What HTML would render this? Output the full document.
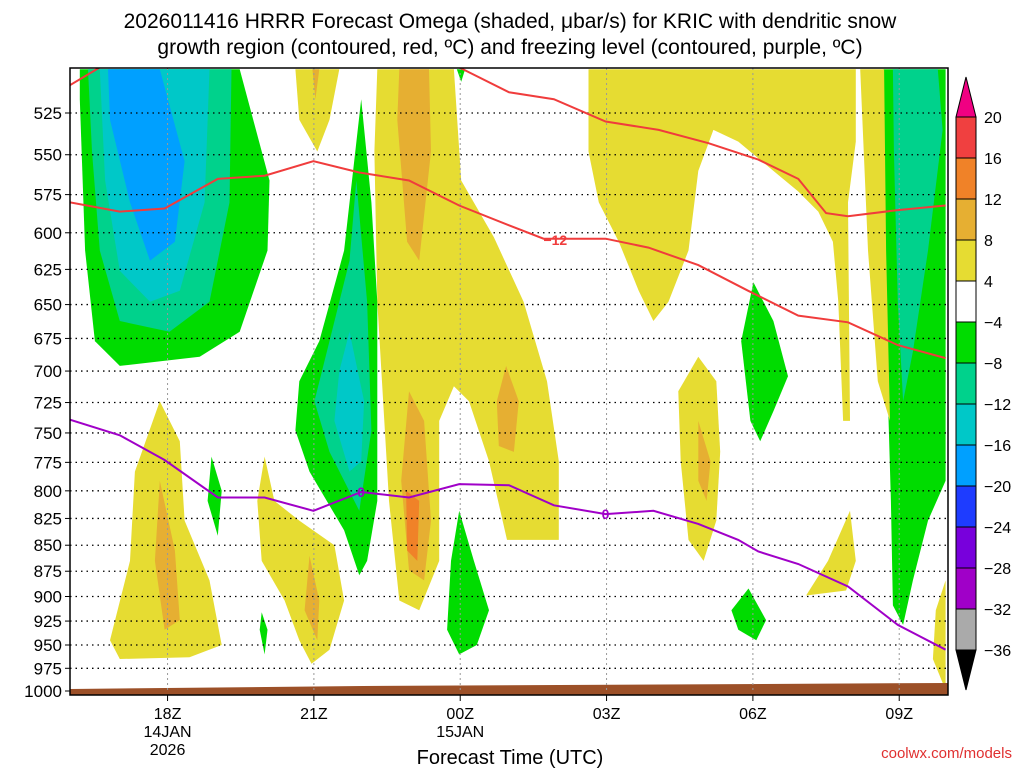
<!DOCTYPE html>
<html><head><meta charset="utf-8"><style>
body{margin:0;background:#fff;width:1024px;height:768px;overflow:hidden;font-family:"Liberation Sans","DejaVu Sans",sans-serif}
svg{display:block}
</style></head><body>
<svg id="c" width="1024" height="768">
<text x="510" y="28" font-size="21" text-anchor="middle">2026011416 HRRR Forecast Omega (shaded, μbar/s) for KRIC with dendritic snow</text>
<text x="510" y="54" font-size="21" text-anchor="middle">growth region (contoured, red, ºC) and freezing level (contoured, purple, ºC)</text>
<g id="shade"></g>
<g id="grid"></g>
<g id="lines"></g>
<g id="axes"></g>
<g id="cbar"></g>
<text x="510" y="764" font-size="20" text-anchor="middle">Forecast Time (UTC)</text>
<text x="1012" y="758" font-size="15" fill="#e03030" text-anchor="end">coolwx.com/models</text>
</svg>
<script>
// hours since 16Z 14JAN, pressure hPa
const yTicks=[525,550,575,600,625,650,675,700,725,750,775,800,825,850,875,900,925,950,975,1000];
const xTickHours=[2,5,8,11,14,17];
const xTickLabels=[["18Z","14JAN","2026"],["21Z"],["00Z","15JAN"],["03Z"],["06Z"],["09Z"]];
const cbLevels=[20,16,12,8,4,-4,-8,-12,-16,-20,-24,-28,-32,-36];
const cbColors=["#f04040","#f08228","#e6af32","#e6dc32","#ffffff","#00dc00","#00d28c","#00c8c8","#00a0ff","#1e3cff","#7800dc","#a000c8","#aaaaaa"];
const C={y:"#e6dc32",o:"#e6af32",r:"#f08228",g:"#00dc00",t:"#00d28c",c:"#00c8c8",b:"#00a0ff"};
const greenL=[0.2,500,3.48,500,4.09,566,4.05,612,3.48,670,2.66,689,1.02,696,0.51,677,0.31,612,0.2,517];
const tealL=[0.37,500,3.31,500,3.27,580,2.86,648,2.04,670,1.02,662,0.61,612,0.45,548];
const cyanL=[0.61,500,2.86,500,2.76,580,2.25,640,1.64,648,1.02,626,0.72,566];
const blueL=[0.78,500,1.84,500,2.35,554,2.15,606,1.64,619,1.23,580,0.82,529];
const yelA=[4.62,500,5.52,500,5.32,529,5.07,548,4.7,529];
const oraA=[4.97,500,5.11,500,5.03,517];
const yelMid=[6.3,500,7.87,500,8.02,566,8.69,603,9.3,648,9.78,708,10.02,774,10.02,845,8.96,845,8.59,774,8.18,724,7.87,712,7.57,740,7.57,865,7.16,914,6.75,904,6.54,809,6.3,648,6.24,548];
const oraTop=[6.75,500,7.36,500,7.4,548,7.16,619,6.91,606,6.71,529];
const oraLow=[6.95,716,7.26,740,7.4,827,7.26,884,6.95,874,6.79,791];
const oraDark=[6.89,800,7.16,809,7.12,865,6.91,855];
const oraR=[8.94,696,9.2,724,9.1,766,8.79,761,8.75,724];
const greenCol=[5.97,517,6.18,580,6.3,648,6.3,809,6.09,865,5.93,879,5.62,836,4.91,783,4.62,748,4.7,708,5.11,677,5.62,612];
const tealCol=[5.87,566,6.09,648,6.18,748,5.93,818,5.32,766,5.01,724,5.32,677,5.73,619];
const cyanCol=[5.73,670,6.03,724,5.97,774,5.73,783,5.42,740,5.52,700];
const yelLL=[1.84,724,2.25,757,2.35,827,2.86,884,3.11,950,2.45,963,1.02,965,0.82,945,1.23,865,1.33,783];
const oraLL=[1.84,791,2.15,855,2.25,924,1.94,934,1.74,865];
const greenSm=[2.9,770,3.11,800,3.03,841,2.82,809];
const yel6=[3.99,770,4.19,809,4.7,827,5.42,850,5.62,904,5.32,955,4.95,970,4.7,945,4.4,904,3.93,865,3.84,809];
const ora6=[4.91,860,5.11,904,5.07,945,4.81,914];
const grn6=[3.93,916,4.05,934,3.99,960,3.89,934];
const grn7=[7.98,818,8.28,865,8.59,914,8.34,950,7.98,960,7.73,934,7.81,865];
const grnTop=[7.93,500,8.1,500,8.02,507];
const yelR=[10.63,500,16.11,500,16.11,542,15.95,580,15.99,740,15.85,740,15.75,648,15.64,606,15.34,586,14.93,573,14.42,560,13.70,542,13.19,535,12.88,560,12.68,612,12.27,648,11.96,662,11.66,640,11.25,606,10.84,580,10.63,548];
const yel9=[12.88,689,13.25,708,13.33,766,13.25,827,12.99,865,12.68,845,12.52,774,12.47,716];
const ora9=[12.88,740,13.13,774,13.05,809,12.88,791];
const grn10=[14.01,634,14.42,662,14.72,704,14.42,732,14.15,757,13.95,740,13.76,677];
const grn11=[13.91,892,14.27,924,14.07,945,13.7,934,13.56,914];
const yel12=[15.99,818,16.11,865,15.91,894,15.09,899,15.54,865];
const grnR=[16.67,500,17.95,500,17.95,791,17.59,827,17.28,884,17.08,929,16.87,909,16.83,809,16.77,724,16.69,612];
const tealR=[16.87,500,17.79,500,17.89,535,17.59,612,17.28,685,17.08,724,16.97,648,16.89,548];
const yelStrip=[16.2,500,16.69,500,16.73,612,16.81,740,16.56,708,16.36,612];
const yelBR=[17.95,884,17.95,999,17.69,965,17.75,914];
const redBHours=[0,1.02,1.94,3.03,3.99,4.99,5.93,6.95,7.98,9.0,9.71,10.98,11.86,12.88,13.9,14.93,15.95,16.97,17.95];
const redBP=[580,586,584,565,563,554,561,566,582,595,604,604,610,622,640,658,663,680,690];
const redAHours=[7.98,9.0,9.92,10.98,12.07,13.09,14.11,14.93,15.5,15.95,16.97,17.95];
const redAP=[499,513,517,530,535,543,553,565,587,589,585,582];
const redStubHours=[0,0.61];
const redStubP=[509,499];
const frzHours=[0,1.02,1.94,3.03,3.99,4.99,5.97,6.95,7.98,9.0,9.92,10.98,11.96,12.88,13.7,14.11,14.93,15.95,16.97,17.95];
const frzP=[739,752,773,806,806,818,801,806,794,795,813,821,818,830,845,856,868,890,929,955];

const NS="http://www.w3.org/2000/svg";
const L=70,R=948,T=68,B=691;
function X(h){return L+h*(R-L)/18;}
function Y(p){return B-Math.log(1000/p)/Math.log(1000/525)*(B-113);}
function mk(tag,attrs,parent){const e=document.createElementNS(NS,tag);for(const k in attrs)e.setAttribute(k,attrs[k]);parent.appendChild(e);return e;}
const shade=document.getElementById('shade');
const cp=mk('clipPath',{id:'pc'},shade);
mk('rect',{x:L,y:T,width:R-L,height:B-T+4},cp);
const sg=mk('g',{'clip-path':'url(#pc)'},shade);
const polys=[[greenL,'g','green-region-left'],[tealL,'t','teal-region-left'],[cyanL,'c','cyan-region-left'],[blueL,'b','blue-region-left'],
[yelA,'y','yellow-region-a'],[oraA,'o','orange-region-a'],[yelMid,'y','yellow-region-mid'],[oraTop,'o','orange-region-top'],[oraLow,'o','orange-region-low'],[oraDark,'r','dark-orange-region'],[oraR,'o','orange-region-right'],
[greenCol,'g','green-column'],[tealCol,'t','teal-column'],[cyanCol,'c','cyan-column'],
[yelLL,'y','yellow-region-lowleft'],[oraLL,'o','orange-region-lowleft'],[greenSm,'g','green-small'],
[yel6,'y','yellow-region-6'],[ora6,'o','orange-region-6'],[grn6,'g','green-region-6'],[grn7,'g','green-region-7'],[grnTop,'g','green-top'],
[yelR,'y','yellow-region-right'],[yel9,'y','yellow-region-9'],[ora9,'o','orange-region-9'],[grn10,'g','green-region-10'],[grn11,'g','green-region-11'],[yel12,'y','yellow-region-12'],
[grnR,'g','green-region-far-right'],[tealR,'t','teal-region-far-right'],[yelStrip,'y','yellow-strip'],[yelBR,'y','yellow-bottom-right']];
polys.forEach(([arr,c,name])=>{
  let pts=[];for(let i=0;i<arr.length;i+=2)pts.push(X(arr[i]).toFixed(1)+','+Y(arr[i+1]).toFixed(1));
  const e=mk('polygon',{points:pts.join(' '),fill:C[c],'stroke-linejoin':'round'},sg);
  
  
});
const gr=mk('polygon',{points:`${L},${B+4} ${L},${B-2} ${X(6)},${B-5} ${R},${B-8} ${R},${B+4}`,fill:'#9c5028'},shade);



const grid=document.getElementById('grid');
yTicks.forEach(p=>{if(p<1000){const e=mk('line',{x1:L,x2:R,y1:Y(p),y2:Y(p),stroke:'#000','stroke-width':1.3,'stroke-dasharray':'1.5 4'},grid);

}});
xTickHours.forEach(h=>{const e=mk('line',{x1:X(h),x2:X(h),y1:T,y2:B,stroke:'#999','stroke-width':1,'stroke-dasharray':'2 3'},grid);

});

const lines=document.getElementById('lines');
function pl(hs,ps,col,name){const d=hs.map((h,i)=>(i?'L':'M')+X(h).toFixed(1)+','+Y(ps[i]).toFixed(1)).join('');
const e=mk('path',{d:d,fill:'none',stroke:col,'stroke-width':2,'clip-path':'url(#pc)'},lines);

}
pl(redBHours,redBP,'#f03c3c','dgz-contour-minus12');
pl(redAHours,redAP,'#f03c3c','dgz-contour-upper');
pl(redStubHours,redStubP,'#f03c3c','dgz-contour-stub');
pl(frzHours,frzP,'#a000c8','freezing-level-contour');
function lab(h,p,t,col,name){
const e=mk('text',{x:X(h),y:Y(p)+5,'font-size':14,'font-weight':'bold',fill:col,'text-anchor':'middle'},lines);e.textContent=t;

}
lab(9.95,605,'−12','#f03c3c','label-minus12');
lab(5.97,801,'0','#a000c8','label-zero-1');
lab(10.98,821,'0','#a000c8','label-zero-2');

const axes=document.getElementById('axes');
const fr=mk('rect',{x:L,y:T,width:R-L,height:B-T+4,fill:'none',stroke:'#000','stroke-width':1.5},axes);


yTicks.forEach(p=>{const e=mk('text',{x:62,y:Y(p)+6,'font-size':17,'text-anchor':'end'},axes);e.textContent=p;


mk('line',{x1:L-5,x2:L,y1:Y(p),y2:Y(p),stroke:'#000'},axes);});
xTickHours.forEach((h,i)=>{mk('line',{x1:X(h),x2:X(h),y1:B+4,y2:B+10,stroke:'#000'},axes);
xTickLabels[i].forEach((t,j)=>{const e=mk('text',{x:X(h),y:719+j*18,'font-size':16,'text-anchor':'middle'},axes);e.textContent=t;

});});

const cb=document.getElementById('cbar');
const cx=956,cw=20,ct=117,ch=41;
mk('polygon',{points:`${cx},${ct} ${cx+cw},${ct} ${cx+cw/2},${ct-40}`,fill:'#f00082',stroke:'#000'},cb);
cbColors.forEach((c,i)=>{const e=mk('rect',{x:cx,y:ct+i*ch,width:cw,height:ch,fill:c,stroke:'#000','stroke-width':1},cb);

});
mk('polygon',{points:`${cx},${ct+13*ch} ${cx+cw},${ct+13*ch} ${cx+cw/2},${ct+13*ch+40}`,fill:'#000',stroke:'#000'},cb);
cbLevels.forEach((v,i)=>{const e=mk('text',{x:984,y:ct+i*ch+6,'font-size':16},cb);e.textContent=(v<0?'−':'')+Math.abs(v);

});
</script>
</body></html>
